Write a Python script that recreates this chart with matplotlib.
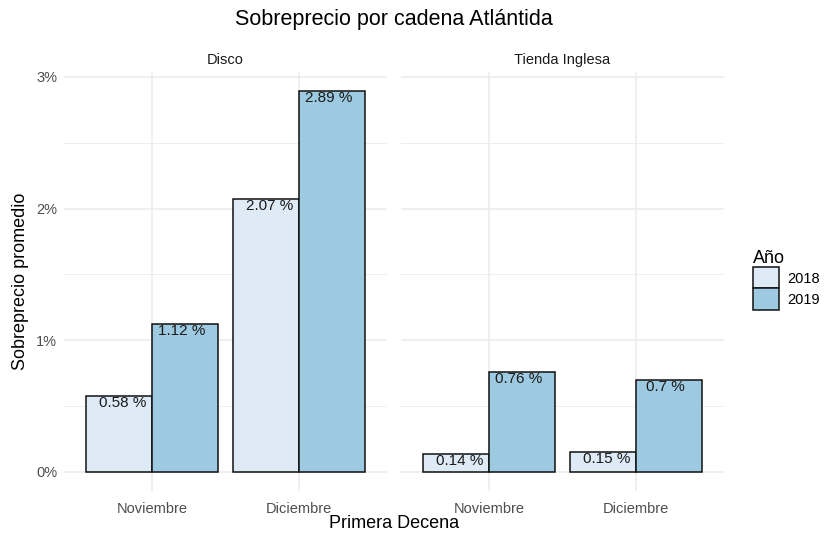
import numpy as np
import matplotlib.pyplot as plt
from matplotlib.patches import Patch

plt.rcParams['font.family'] = ['Liberation Sans', 'DejaVu Sans']

# data
cadenas = ['Disco', 'Tienda Inglesa']
meses = ['Noviembre', 'Diciembre']
anios = ['2018', '2019']
disco_2018 = [0.58, 2.07]
disco_2019 = [1.12, 2.89]
ti_2018 = [0.14, 0.15]
ti_2019 = [0.76, 0.70]
valores = {'Disco': (disco_2018, disco_2019), 'Tienda Inglesa': (ti_2018, ti_2019)}
colores = ['#deebf7', '#9ecae1']

fig = plt.figure(figsize=(8.26, 5.38), dpi=100)

ymax = max(max(disco_2019), max(disco_2018), max(ti_2018), max(ti_2019))
ylim = (-0.05 * ymax, 1.05 * ymax)

lefts = [64 / 826, 401 / 826]
w = 323 / 826
bottom = 1 - 491 / 538
h = (491 - 72.4) / 538

x = np.arange(1, len(meses) + 1)
for i, cad in enumerate(cadenas):
    ax = fig.add_axes([lefts[i], bottom, w, h])
    v18, v19 = valores[cad]
    ax.bar(x - 0.225, v18, width=0.45, color=colores[0], edgecolor='#111111', linewidth=1.1, zorder=3)
    ax.bar(x + 0.225, v19, width=0.45, color=colores[1], edgecolor='#111111', linewidth=1.1, zorder=3)
    for xi, v in zip(x, v18):
        ax.text(xi - 0.2, v, f'{v:g} %', ha='center', va='top', fontsize=11, color='#1a1a1a', zorder=4)
    for xi, v in zip(x, v19):
        ax.text(xi + 0.2, v, f'{v:g} %', ha='center', va='top', fontsize=11, color='#1a1a1a', zorder=4)

    ax.set_xlim(0.4, 2.6)
    ax.set_ylim(*ylim)
    ax.set_xticks(x)
    ax.set_xticklabels(meses)
    ax.set_yticks([0, 1, 2, 3])
    ax.set_yticks([0.5, 1.5, 2.5], minor=True)
    ax.set_yticklabels(['0%', '1%', '2%', '3%'])
    ax.grid(axis='y', which='major', color='#ebebeb', linewidth=1.1, zorder=0)
    ax.grid(axis='y', which='minor', color='#ebebeb', linewidth=0.6, zorder=0)
    ax.grid(axis='x', which='major', color='#ebebeb', linewidth=1.1, zorder=0)
    ax.tick_params(axis='both', which='both', length=0, labelsize=10.5, labelcolor='#4d4d4d')
    ax.tick_params(axis='x', pad=8)
    ax.tick_params(axis='y', pad=5)
    for s in ax.spines.values():
        s.set_visible(False)
    ax.set_title(cad, fontsize=10.5, color='#1a1a1a', pad=6)
    if i == 1:
        ax.tick_params(axis='y', labelleft=False)
    else:
        ax.set_ylabel('Sobreprecio promedio', fontsize=13, labelpad=5)

fig.text(394 / 826, 1 - 20 / 538, 'Sobreprecio por cadena Atlántida', ha='center', va='center', fontsize=15.5)
fig.text(394 / 826, 1 - 524 / 538, 'Primera Decena', ha='center', va='center', fontsize=13)

handles = [Patch(facecolor=c, edgecolor='#111111', linewidth=1.1) for c in colores]
leg = fig.legend(handles, anios, title='Año', loc='upper left',
                 bbox_to_anchor=(746 / 826, 1 - 243 / 538), frameon=False,
                 fontsize=10.5, title_fontsize=13, handlelength=1.75, handleheight=1.85,
                 labelspacing=0, borderpad=0, handletextpad=0.6, alignment='left')

fig.savefig('out.png', dpi=100)
